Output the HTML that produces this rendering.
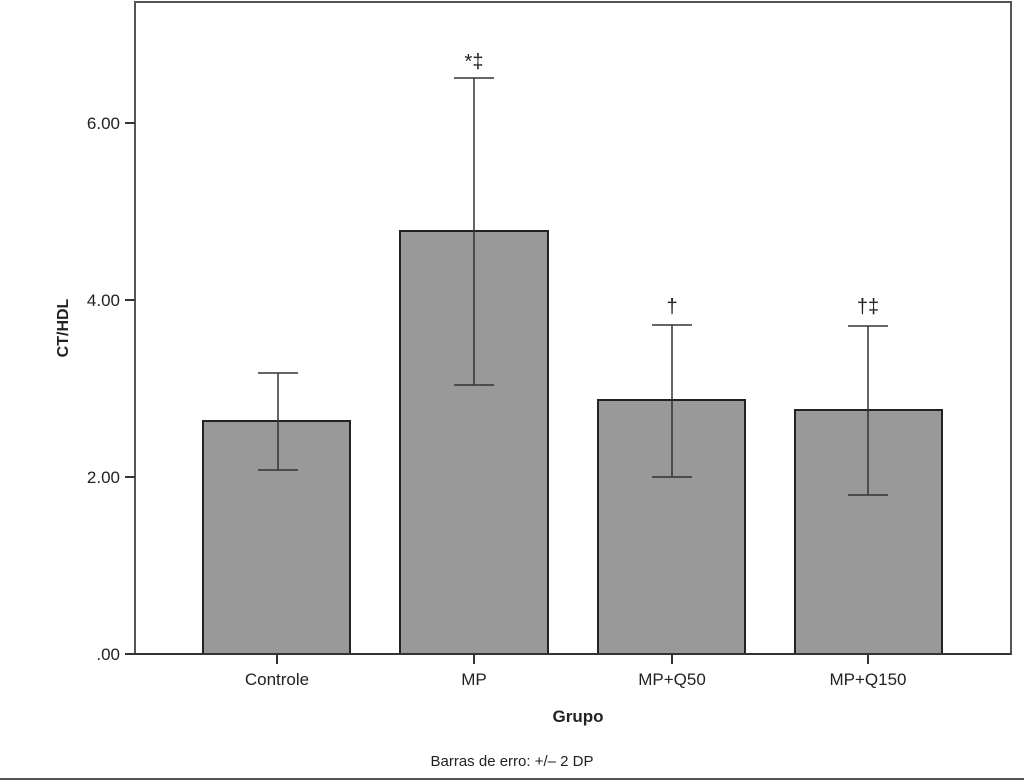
<!DOCTYPE html>
<html><head><style>body{margin:0;background:#fff}svg{display:block}</style></head><body>
<svg width="1024" height="781" xmlns="http://www.w3.org/2000/svg" font-family="Liberation Sans, sans-serif">
<rect width="1024" height="781" fill="#fff"/>
<rect x="135" y="2" width="876" height="652" fill="none" stroke="#555" stroke-width="2"/>
<g fill="#999" stroke="#222" stroke-width="2">
<rect x="203" y="421" width="147" height="233"/>
<rect x="400" y="231" width="148" height="423"/>
<rect x="598" y="400" width="147" height="254"/>
<rect x="795" y="410" width="147" height="244"/>
</g>
<line x1="135" y1="654" x2="1011" y2="654" stroke="#333" stroke-width="2"/>
<g stroke="#333" stroke-width="2">
<line x1="125" y1="654" x2="135" y2="654"/><line x1="125" y1="477" x2="135" y2="477"/>
<line x1="125" y1="300" x2="135" y2="300"/><line x1="125" y1="123" x2="135" y2="123"/>
<line x1="277" y1="654" x2="277" y2="664"/><line x1="474" y1="654" x2="474" y2="664"/>
<line x1="672" y1="654" x2="672" y2="664"/><line x1="868" y1="654" x2="868" y2="664"/>
</g>
<g stroke="#333" stroke-width="1.5" fill="none">
<path d="M258 373H298M278 373V470M258 470H298"/>
<path d="M454 78H494M474 78V385M454 385H494"/>
<path d="M652 325H692M672 325V477M652 477H692"/>
<path d="M848 326H888M868 326V495M848 495H888"/>
</g>
<g font-size="17" fill="#222" text-anchor="end">
<text x="120" y="660">.00</text><text x="120" y="483">2.00</text>
<text x="120" y="306">4.00</text><text x="120" y="129">6.00</text>
</g>
<g font-size="17" fill="#222" text-anchor="middle">
<text x="277" y="685">Controle</text><text x="474" y="685">MP</text>
<text x="672" y="685">MP+Q50</text><text x="868" y="685">MP+Q150</text>
<text x="474" y="68" font-size="20">*‡</text><text x="672" y="313" font-size="20">†</text><text x="868" y="313" font-size="20">†‡</text>
<text x="578" y="722" font-weight="bold">Grupo</text>
<text x="512" y="766" font-size="15">Barras de erro: +/– 2 DP</text>
</g>
<text transform="translate(68,328) rotate(-90)" font-size="16" font-weight="bold" fill="#222" text-anchor="middle">CT/HDL</text>
<line x1="0" y1="779" x2="1024" y2="779" stroke="#555" stroke-width="2"/>
</svg>
</body></html>
